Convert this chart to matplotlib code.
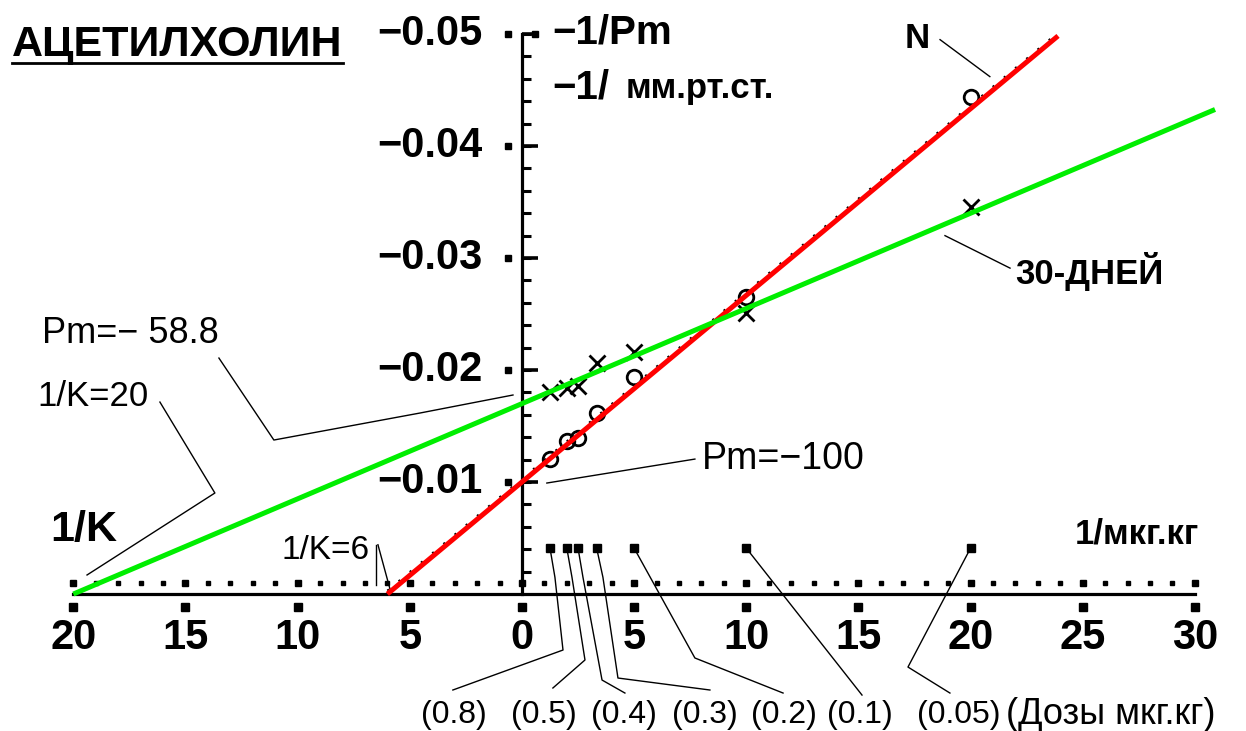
import matplotlib.pyplot as plt
import numpy as np

plt.rcParams['font.family'] = ['Liberation Sans', 'DejaVu Sans']

# doses (mkg/kg) and their reciprocals on the x axis
DOSES = [0.8, 0.5, 0.4, 0.3, 0.2, 0.1, 0.05]
INV_DOSE = [1 / d for d in DOSES]

# 1/Pm readings: control N (circles) and after 30 days (crosses)
INV_PM_N = [0.0121, 0.0137, 0.0139, 0.0162, 0.0194, 0.0265, 0.0444]
INV_PM_30 = [0.0180, 0.0184, 0.0186, 0.0206, 0.0216, 0.0251, 0.0346]

# fitted lines: x intercept (-1/K), y intercept (1/Pm), right end of line
N_INV_K, N_INV_PM, N_END = 6, 0.010, 23.9        # Pm = -100
D30_INV_K, D30_INV_PM, D30_END = 20, 0.017, 30.9  # Pm = -58.8

X_TICKS = [-20, -15, -10, -5, 0, 5, 10, 15, 20, 25, 30]
Y_TICKS = [0.01, 0.02, 0.03, 0.04, 0.05]

# left edge of the dose captions along the bottom
DOSE_LABEL_X = [-4.5, -0.5, 3.1, 6.7, 10.2, 13.6, 17.6, 21.6]

fig = plt.figure(figsize=(12.46, 7.31), dpi=100)
ax = fig.add_axes([0, 0, 1, 1])
ax.set_xlim(-23.27, 32.28)
ax.set_ylim(-0.01223, 0.05304)
ax.axis('off')

# axes drawn by hand
ax.plot([-20, 30], [0, 0], color='black', lw=2.3, zorder=2)
ax.plot([0, 0], [0, 0.05], color='black', lw=2.3, zorder=2)
minor = np.arange(0.002, 0.0501, 0.002)
ax.hlines(minor, 0, 0.4, color='black', lw=2.2)
ax.hlines(Y_TICKS, 0, 0.7, color='black', lw=2.6)
ax.plot([-0.62] * len(Y_TICKS), Y_TICKS, 's', color='black', ms=5)
ax.plot([0.6], [0.05], 's', color='black', ms=5)

# dotted guide line with bigger squares at every 5
ax.plot(np.arange(-20, 31, 1), [0.001] * 51, 's', color='black', ms=2.8)
ax.plot(X_TICKS, [0.001] * len(X_TICKS), 's', color='black', ms=5)
ax.plot(X_TICKS, [-0.00116] * len(X_TICKS), 's', color='black', ms=6)

for x in X_TICKS:
    ax.text(x, -0.0039, str(abs(x)), ha='center', va='center',
            fontsize=30, fontweight='bold')
for y in Y_TICKS:
    ax.text(-1.78, y, f'\u2212{y:.2f}', ha='right', va='center',
            fontsize=30, fontweight='bold')

# data points
ax.plot(INV_DOSE, INV_PM_N, 'o', mfc='none', mec='black', ms=10.5, mew=2, zorder=3)
ax.plot(INV_DOSE, INV_PM_30, 'x', color='black', ms=11, mew=2, zorder=3)
ax.plot(INV_DOSE, [0.0041] * len(INV_DOSE), 's', color='black', ms=6, zorder=3)

# fitted lines
xn = np.array([-N_INV_K, N_END])
yn = N_INV_PM * (1 + xn / N_INV_K)
x30 = np.array([-D30_INV_K, D30_END])
y30 = D30_INV_PM * (1 + x30 / D30_INV_K)
ax.plot(xn, yn + 0.0003, color='black', lw=1.5, ls=(0, (1, 6)), zorder=3)
ax.plot(xn, yn, color='#ff0000', lw=3.6, zorder=4, solid_capstyle='butt')
ax.plot(x30, y30, color='#00ee00', lw=3.6, zorder=4, solid_capstyle='butt')

# title and axis captions
ax.text(-22.74, 0.0490, 'АЦЕТИЛХОЛИН', ha='left', va='center',
        fontsize=31, fontweight='bold')
ax.plot([-22.74, -7.98], [0.0474, 0.0474], color='black', lw=2)
ax.text(1.34, 0.0501, '\u22121/Pm', ha='left', va='center',
        fontsize=29, fontweight='bold')
ax.text(1.34, 0.0452, '\u22121/', ha='left', va='center',
        fontsize=29, fontweight='bold')
ax.text(4.6, 0.0451, 'мм.рт.ст.', ha='left', va='center',
        fontsize=25, fontweight='bold')
ax.text(-21.04, 0.0057, '1/K', ha='left', va='center',
        fontsize=31, fontweight='bold')
ax.text(24.65, 0.0054, '1/мкг.кг', ha='left', va='center',
        fontsize=25, fontweight='bold')

# labels with leader lines
ax.text(17.08, 0.0496, 'N', ha='left', va='center', fontsize=25, fontweight='bold')
ax.plot([18.64, 20.86], [0.0495, 0.0462], color='black', lw=1)

ax.text(21.98, 0.0288, '30-ДНЕЙ', ha='left', va='center', fontsize=25, fontweight='bold')
ax.plot([18.86, 21.76], [0.0320, 0.0291], color='black', lw=1)

ax.text(-21.40, 0.0233, 'Pm=\u2212 58.8', ha='left', va='center', fontsize=26)
ax.plot([-13.51, -11.06, -4.55, -0.40], [0.02107, 0.01375, 0.01616, 0.01777],
        color='black', lw=1)

ax.text(-21.62, 0.0176, '1/K=20', ha='left', va='center', fontsize=25)
ax.plot([-16.14, -13.69, -19.39], [0.01714, 0.00902, 0.00170], color='black', lw=1)

ax.text(-10.74, 0.0039, '1/K=6', ha='left', va='center', fontsize=24)
ax.plot([-6.51, -6.51], [0.0044, 0.0008], color='black', lw=1)
ax.plot([-6.42, -5.85], [0.0044, 0.0002], color='black', lw=1)

ax.text(8.0, 0.0121, 'Pm=\u2212100', ha='left', va='center', fontsize=27)
ax.plot([7.71, 1.11], [0.01205, 0.00991], color='black', lw=1)

# dose captions and their leaders
leaders = [
    ([1.25, 1.47, 1.83, -3.08], [0.0041, 0.0015, -0.0050, -0.00857]),
    ([2.0, 2.23, 2.81, 1.38], [0.0041, 0.0015, -0.00589, -0.00839]),
    ([2.5, 2.72, 3.57, 4.59], [0.0041, 0.0015, -0.00768, -0.00884]),
    ([3.33, 3.61, 4.28, 8.38], [0.0041, 0.0015, -0.0075, -0.00857]),
    ([5.0, 7.71, 11.64], [0.0041, -0.00571, -0.00884]),
    ([10.0, 15.16], [0.0041, -0.00902]),
    ([20.0, 17.21, 19.08], [0.0041, -0.00652, -0.00884]),
]
for xs, ys in leaders:
    ax.plot(xs, ys, color='black', lw=1)

captions = [f'({d:g})' for d in DOSES] + ['(Дозы мкг.кг)']
sizes = [23] * len(DOSES) + [26]
for x, s, fs in zip(DOSE_LABEL_X, captions, sizes):
    ax.text(x, -0.0108, s, ha='left', va='center', fontsize=fs)

fig.savefig('out.png', dpi=100)
